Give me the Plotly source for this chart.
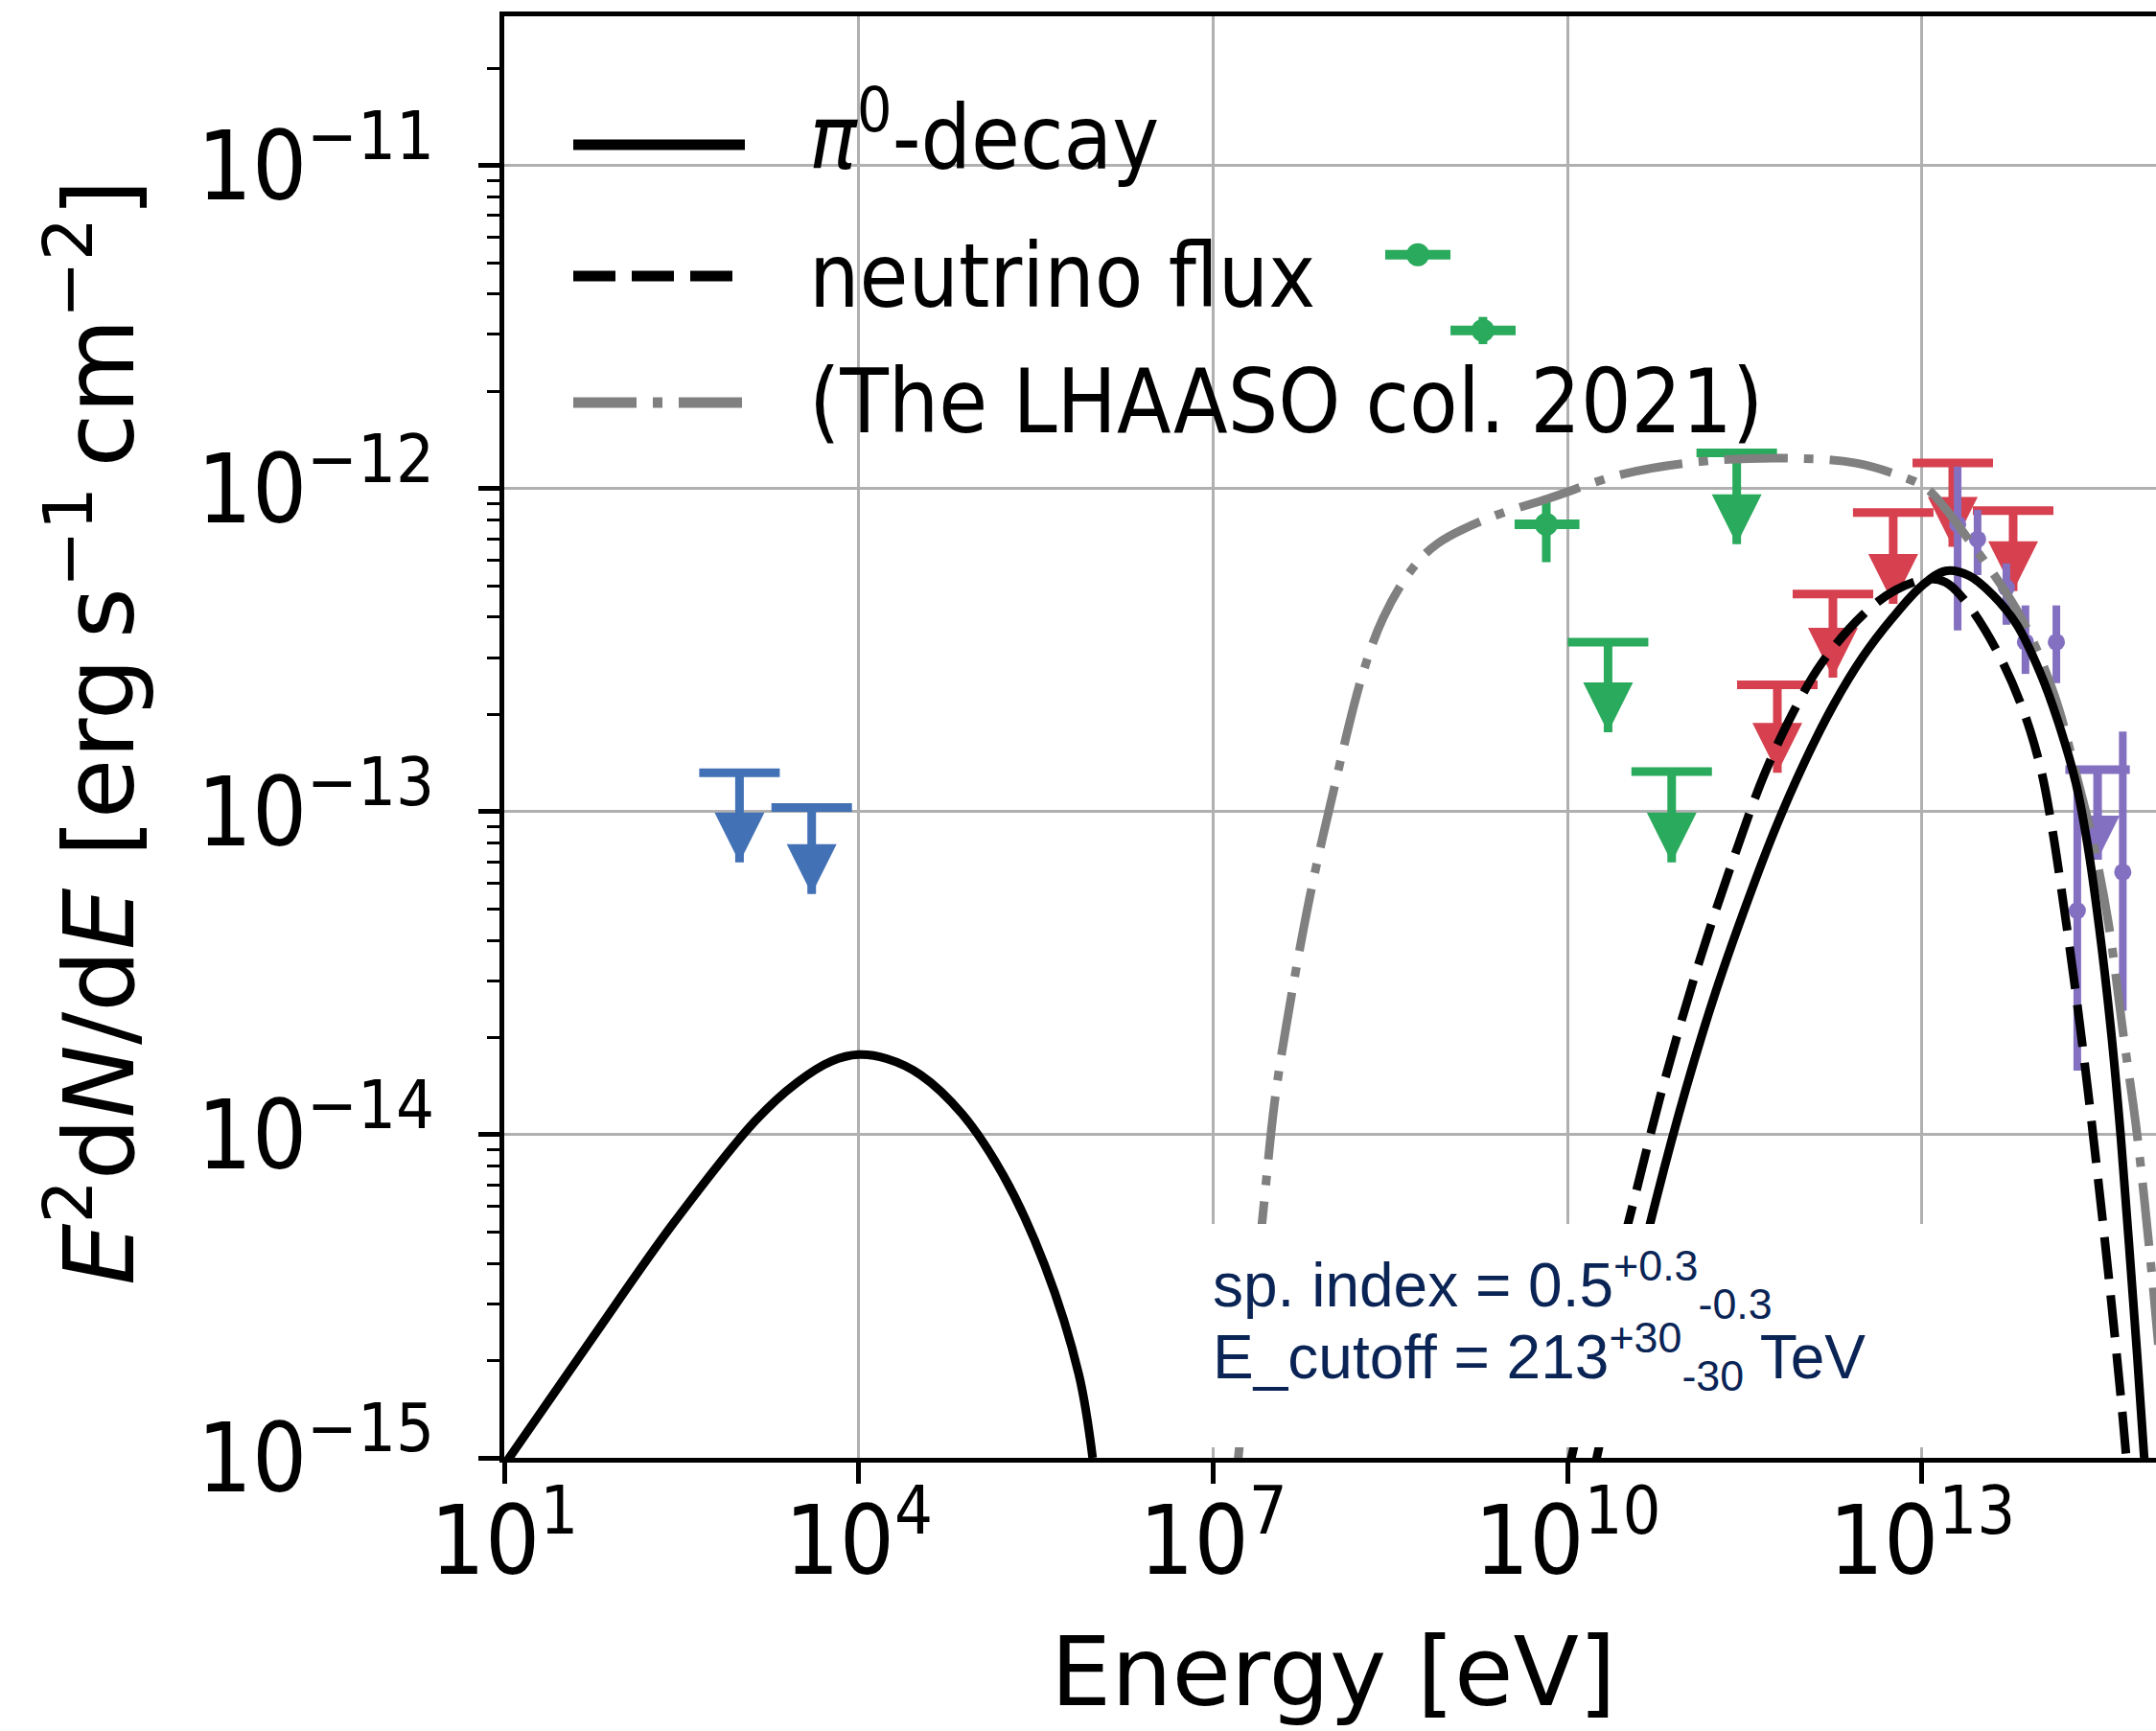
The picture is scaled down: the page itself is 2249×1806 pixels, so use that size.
import plotly.graph_objects as go

# ---------------- data (energy in eV, E^2 dN/dE in erg s^-1 cm^-2) ----------------

# pi0-decay model: low-energy (secondary) bump
pi0_low_e = [1.0e1, 5.4e1, 2.7e2, 1.35e3, 3.0e3, 5.9e3, 1.0e4, 1.72e4, 3.36e4, 7.5e4,
             1.67e5, 3.74e5, 7.3e5, 9.55e5]
pi0_low_f = [9.5e-16, 2.31e-15, 5.32e-15, 1.11e-14, 1.45e-14, 1.69e-14, 1.77e-14, 1.72e-14,
             1.53e-14, 1.16e-14, 7.5e-15, 3.96e-15, 1.81e-15, 1.0e-15]

# pi0-decay model: gamma-ray bump
pi0_high_e = [1.58e10, 3.16e10, 5.62e10, 1.0e11, 1.78e11, 3.16e11, 5.62e11, 1.0e12, 1.78e12,
              3.16e12, 5.62e12, 1.0e13, 1.58e13, 2.51e13, 3.98e13, 6.31e13, 1.0e14, 1.41e14,
              2.0e14, 2.51e14, 3.16e14, 3.98e14, 4.79e14, 5.62e14, 6.61e14, 7.76e14]
pi0_high_f = [8.3e-16, 2.63e-15, 6.31e-15, 1.38e-14, 2.75e-14, 5.01e-14, 8.71e-14, 1.41e-13,
              2.14e-13, 3.02e-13, 3.98e-13, 5.01e-13, 5.56e-13, 5.37e-13, 4.68e-13, 3.8e-13,
              2.69e-13, 1.91e-13, 1.23e-13, 7.94e-14, 4.37e-14, 2.09e-14, 1.0e-14, 4.68e-15,
              2.09e-15, 8.9e-16]

# neutrino flux
nu_e = [1.0e10, 2.0e10, 3.55e10, 6.31e10, 1.26e11, 2.51e11, 4.57e11, 7.94e11, 1.41e12,
        3.16e12, 5.89e12, 1.12e13, 1.58e13, 2.34e13, 4.27e13, 7.08e13, 1.0e14, 1.26e14,
        1.58e14, 2.0e14, 2.51e14, 3.16e14, 3.98e14, 5.01e14, 5.5e14]
nu_f = [8.9e-16, 2.63e-15, 6.03e-15, 1.38e-14, 3.31e-14, 7.08e-14, 1.29e-13, 2.0e-13, 2.88e-13,
        4.07e-13, 4.84e-13, 5.25e-13, 5.13e-13, 4.47e-13, 3.16e-13, 2.09e-13, 1.38e-13, 8.91e-14,
        5.13e-14, 2.75e-14, 1.41e-14, 6.76e-15, 3.09e-15, 1.32e-15, 8.9e-16]

# LHAASO collaboration (2021) model
lhaaso_model_e = [1.58e7, 2.63e7, 3.31e7, 4.17e7, 6.61e7, 1.05e8, 1.82e8, 2.75e8, 4.79e8,
                  7.94e8, 2.19e9, 6.92e9, 2.95e10, 1.58e11, 8.91e11, 2.75e12, 6.76e12, 1.1e13,
                  2.34e13, 6.92e13, 1.32e14, 2.0e14, 2.82e14, 3.8e14, 5.01e14, 6.61e14,
                  8.91e14, 1.0e15]
lhaaso_model_f = [8.9e-16, 5.62e-15, 1.26e-14, 2.19e-14, 5.5e-14, 1.17e-13, 2.63e-13, 3.98e-13,
                  5.62e-13, 6.76e-13, 8.13e-13, 9.33e-13, 1.11e-12, 1.22e-12, 1.24e-12, 1.2e-12,
                  1.09e-12, 1.0e-12, 7.16e-13, 3.98e-13, 2.29e-13, 1.32e-13, 7.94e-14, 4.47e-14,
                  2.09e-14, 1.0e-14, 3.55e-15, 2.24e-15]

# X-ray upper limits
xray_ul_e = [9.8e2, 4.0e3]
xray_ul_f = [1.32e-13, 1.03e-13]
xray_ul_tip = [6.97e-14, 5.56e-14]

# GeV flux points
gev_e = [5.4e8, 1.92e9, 6.6e9]
gev_e_lo = [2.86e8, 1.02e9, 3.56e9]
gev_e_hi = [1.02e9, 3.63e9, 1.26e10]
gev_f = [5.3e-12, 3.09e-12, 7.76e-13]
gev_f_lo = [4.9e-12, 2.8e-12, 5.92e-13]
gev_f_hi = [5.7e-12, 3.4e-12, 9.2e-13]

# GeV upper limits
gev_ul_e = [2.2e10, 7.6e10, 2.7e11]
gev_ul_f = [3.35e-13, 1.33e-13, 1.29e-12]
gev_ul_tip = [1.76e-13, 6.97e-14, 6.73e-13]

# TeV upper limits
tev_ul_e = [5.96e11, 1.76e12, 5.7e12, 1.82e13, 5.9e13]
tev_ul_f = [2.47e-13, 4.72e-13, 8.43e-13, 1.2e-12, 8.55e-13]
tev_ul_tip = [1.32e-13, 2.6e-13, 4.4e-13, 6.6e-13, 4.82e-13]

# LHAASO flux points
lh_e = [2.0e13, 2.95e13, 5.17e13, 7.5e13, 1.37e14, 2.06e14, 5.0e14]
lh_f = [7.76e-13, 6.97e-13, 4.94e-13, 3.35e-13, 3.35e-13, 4.94e-14, 6.5e-14]
lh_f_hi = [1.17e-12, 8.6e-13, 5.87e-13, 4.35e-13, 4.35e-13, 1.2e-13, 1.77e-13]
lh_f_lo = [3.64e-13, 5.4e-13, 3.79e-13, 2.67e-13, 2.5e-13, 1.58e-14, 2.42e-14]

# LHAASO upper limit
lh_ul_e = [3.06e14]
lh_ul_f = [1.35e-13]
lh_ul_tip = [7.1e-14]

# axis ticks
x_tickvals = [1e1, 1e4, 1e7, 1e10, 1e13]
x_ticktext = ["10<sup>1</sup>", "10<sup>4</sup>", "10<sup>7</sup>", "10<sup>10</sup>", "10<sup>13</sup>"]
y_tickvals = [1e-15, 1e-14, 1e-13, 1e-12, 1e-11]
y_ticktext = ["10<sup>\u221215</sup>", "10<sup>\u221214</sup>", "10<sup>\u221213</sup>",
              "10<sup>\u221212</sup>", "10<sup>\u221211</sup>"]

legend_labels = ["<i>\u03c0</i><sup>0</sup>-decay", "neutrino flux", "(The LHAASO col. 2021)"]
fit_lines = ["sp. index = 0.5<sup>+0.3</sup><sub>-0.3</sub>",
             "E_cutoff = 213<sup>+30</sup><sub>-30</sub> TeV"]

# ---------------- styling ----------------
W, H = 2249, 1806
L, R, T, B = 526, 0, 17, 285
MPL_FONT = "DejaVu Sans Condensed, DejaVu Sans"
BLUE, GREEN, RED, PURPLE = "#4271b5", "#2aaa5c", "#d6404f", "#8470c0"
GREY = "#808080"
LW = 9


def px_x(p):
    return (p - L) / (W - L - R)


def px_y(p):
    return (H - B - p) / (H - T - B)


def diff(a, b):
    return [u - v for u, v in zip(a, b)]


fig = go.Figure()


def add_upper_limits(e, cap, tip, color, arrow_size=52, cap_size=60):
    # cap bar with a stem down to the arrow head
    fig.add_trace(go.Scatter(
        x=e, y=cap, mode="markers",
        marker=dict(symbol="line-ew", size=cap_size, color=color,
                    line=dict(color=color, width=LW)),
        error_y=dict(type="data", symmetric=False, array=[0] * len(e),
                     arrayminus=diff(cap, tip), width=0, thickness=LW, color=color),
        hoverinfo="skip"))
    fig.add_trace(go.Scatter(
        x=e, y=tip, mode="markers",
        marker=dict(symbol="arrow-down", size=arrow_size, color=color, line=dict(width=0)),
        hoverinfo="skip"))


add_upper_limits(xray_ul_e, xray_ul_f, xray_ul_tip, BLUE)
add_upper_limits(gev_ul_e, gev_ul_f, gev_ul_tip, GREEN)
add_upper_limits(tev_ul_e, tev_ul_f, tev_ul_tip, RED)

fig.add_trace(go.Scatter(
    x=gev_e, y=gev_f, mode="markers",
    marker=dict(symbol="circle", size=24, color=GREEN, line=dict(width=0)),
    error_x=dict(type="data", symmetric=False, array=diff(gev_e_hi, gev_e),
                 arrayminus=diff(gev_e, gev_e_lo), width=0, thickness=10, color=GREEN),
    error_y=dict(type="data", symmetric=False, array=diff(gev_f_hi, gev_f),
                 arrayminus=diff(gev_f, gev_f_lo), width=0, thickness=LW, color=GREEN),
    hoverinfo="skip"))

fig.add_trace(go.Scatter(
    x=lh_e, y=lh_f, mode="markers",
    marker=dict(symbol="circle", size=18, color=PURPLE, line=dict(width=0)),
    error_y=dict(type="data", symmetric=False, array=diff(lh_f_hi, lh_f),
                 arrayminus=diff(lh_f, lh_f_lo), width=0, thickness=8, color=PURPLE),
    hoverinfo="skip"))
add_upper_limits(lh_ul_e, lh_ul_f, lh_ul_tip, PURPLE, arrow_size=46, cap_size=48)

# model curves
DASH = "44px,17px"
DASHDOT = "66px,17px,10px,17px"
fig.add_trace(go.Scatter(x=lhaaso_model_e, y=lhaaso_model_f, mode="lines",
                         line=dict(color=GREY, width=LW, dash=DASHDOT, shape="spline", smoothing=1.0),
                         hoverinfo="skip"))
fig.add_trace(go.Scatter(x=nu_e, y=nu_f, mode="lines",
                         line=dict(color="black", width=LW, dash=DASH, shape="spline", smoothing=1.0),
                         hoverinfo="skip"))
for xs, ys in ((pi0_low_e, pi0_low_f), (pi0_high_e, pi0_high_f)):
    fig.add_trace(go.Scatter(x=xs, y=ys, mode="lines",
                             line=dict(color="black", width=LW, shape="spline", smoothing=1.0),
                             hoverinfo="skip"))

# legend drawn as line samples + labels
legend_rows = [151, 288, 420]
legend_text_rows = [138, 288, 420]
legend_styles = [("black", "solid"), ("black", DASH), (GREY, DASHDOT)]
for row, text_row, (col, dash), label in zip(legend_rows, legend_text_rows, legend_styles, legend_labels):
    fig.add_shape(type="line", xref="paper", yref="paper",
                  x0=px_x(598), x1=px_x(777), y0=px_y(row), y1=px_y(row),
                  line=dict(color=col, width=11, dash=dash), layer="above")
    fig.add_annotation(text=label, xref="paper", yref="paper", x=px_x(842), y=px_y(text_row),
                       xanchor="left", yanchor="middle", showarrow=False,
                       font=dict(family=MPL_FONT, size=92, color="black"))

# white panel with the fit parameters
fig.add_shape(type="rect", xref="paper", yref="paper",
              x0=px_x(1240), x1=px_x(2006), y0=px_y(1510), y1=px_y(1277),
              fillcolor="white", line=dict(width=0), layer="above")
for line_txt, y_mid in zip(fit_lines, (1340, 1415)):
    fig.add_annotation(text=line_txt, xref="paper", yref="paper", x=px_x(1263), y=px_y(y_mid),
                       xanchor="left", yanchor="middle", showarrow=False,
                       font=dict(family="Liberation Sans, Arial", size=64, color="#0a2456"))

# axis titles
fig.add_annotation(text="Energy [eV]", xref="paper", yref="paper", x=px_x(1391), y=px_y(1744),
                   xanchor="center", yanchor="middle", showarrow=False,
                   font=dict(family="DejaVu Sans", size=100, color="black"))
fig.add_annotation(text="<i>E</i><sup>2</sup>d<i>N</i>/d<i>E</i> [erg\u2009s<sup>\u22121</sup>\u2009cm<sup>\u22122</sup>]",
                   xref="paper", yref="paper", x=px_x(96), y=px_y(764), textangle=-90,
                   xanchor="center", yanchor="middle", showarrow=False,
                   font=dict(family="DejaVu Sans", size=102, color="black"))

fig.update_xaxes(type="log", range=[1.0, 14.98], tickmode="array",
                 tickvals=x_tickvals, ticktext=x_ticktext,
                 showgrid=True, gridcolor="#b0b0b0", gridwidth=3,
                 showline=True, linecolor="black", linewidth=5, mirror=True,
                 ticks="outside", ticklen=22, tickwidth=5, tickcolor="black",
                 ticklabelstandoff=-26,
                 tickfont=dict(family=MPL_FONT, size=100, color="black"), zeroline=False)
fig.update_yaxes(type="log", range=[-15.0, -10.538], tickmode="array",
                 tickvals=y_tickvals, ticktext=y_ticktext,
                 showgrid=True, gridcolor="#b0b0b0", gridwidth=3,
                 showline=True, linecolor="black", linewidth=5, mirror=False,
                 ticks="outside", ticklen=22, tickwidth=5, tickcolor="black",
                 ticklabelstandoff=26,
                 tickfont=dict(family=MPL_FONT, size=100, color="black"), zeroline=False,
                 minor=dict(tickmode="array",
                            tickvals=[m * 10.0 ** p for p in range(-15, -10) for m in range(2, 10)],
                            ticks="outside", ticklen=13, tickwidth=3, tickcolor="black", showgrid=False))

fig.update_layout(width=W, height=H, margin=dict(l=L, r=R, t=T, b=B, pad=0),
                  paper_bgcolor="white", plot_bgcolor="white", showlegend=False,
                  font=dict(family=MPL_FONT, color="black"))

fig.write_html("out.html")
